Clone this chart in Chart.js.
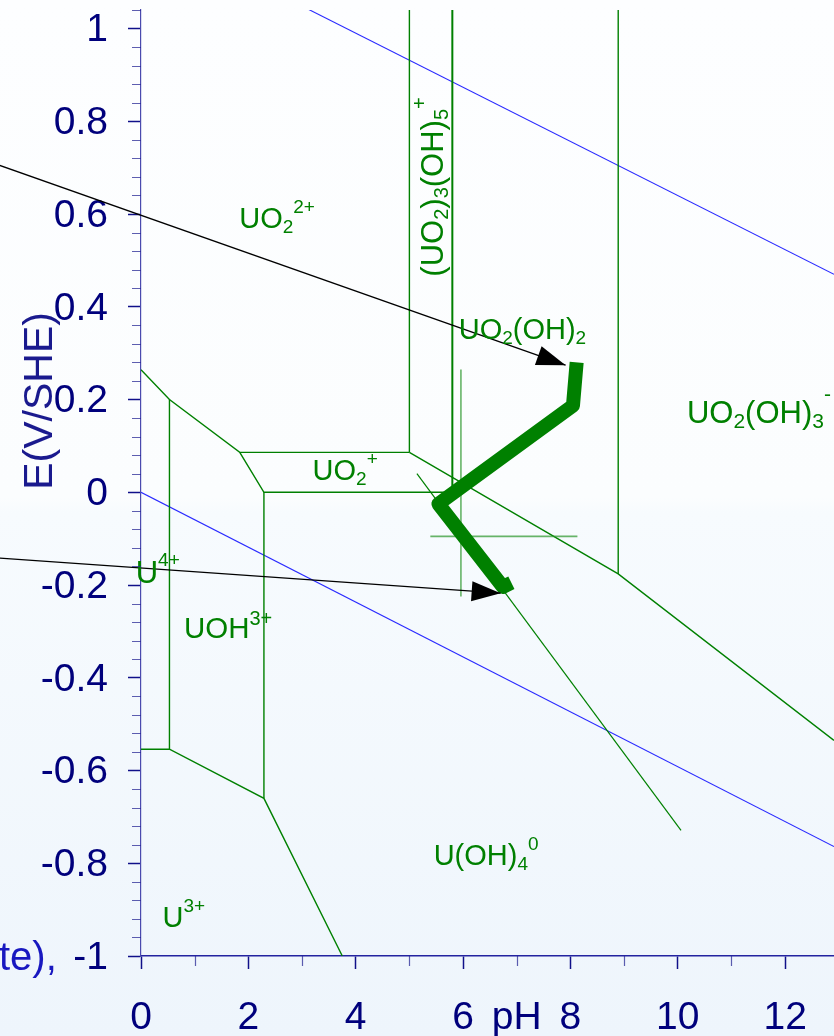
<!DOCTYPE html>
<html>
<head>
<meta charset="utf-8">
<script src="https://cdn.jsdelivr.net/npm/chart.js@4.4.1/dist/chart.umd.min.js"></script>
<style>
  html, body { margin: 0; padding: 0; }
  body {
    width: 834px; height: 1036px; overflow: hidden;
    background: linear-gradient(to bottom, #fdfeff 0%, #fbfdfe 48%, #f7fbfe 49.5%, #eef5fc 100%);
  }
  canvas { display: block; }
</style>
</head>
<body>
<canvas id="pourbaix" width="834" height="1036"></canvas>
<script>
// ---- Axis ticks ----
const xTickValues = [0, 1, 2, 3, 4, 5, 6, 7, 8, 9, 10, 11, 12];
const xTickLabels = ['0', '', '2', '', '4', '', '6', 'pH', '8', '', '10', '', '12'];
const xMajorTicks = [0, 2, 4, 6, 8, 10, 12];
const yTickValues = [-1, -0.8, -0.6, -0.4, -0.2, 0, 0.2, 0.4, 0.6, 0.8, 1];
const yTickLabels = ['-1', '-0.8', '-0.6', '-0.4', '-0.2', '0', '0.2', '0.4', '0.6', '0.8', '1'];
const yMinorTicks = [-0.96, -0.92, -0.88, -0.84, -0.76, -0.72, -0.68, -0.64, -0.56, -0.52, -0.48, -0.44,
  -0.36, -0.32, -0.28, -0.24, -0.16, -0.12, -0.08, -0.04, 0.04, 0.08, 0.12, 0.16, 0.24, 0.28, 0.32, 0.36,
  0.44, 0.48, 0.52, 0.56, 0.64, 0.68, 0.72, 0.76, 0.84, 0.88, 0.92, 0.96, 1.04];
const xMinorTicks = [1, 3, 5, 7, 9, 11];

// ---- Water stability limits (pH, E) ----
const waterUpper = [[3.11, 1.042], [12.91, 0.47]];
const waterLower = [[0, 0], [12.91, -0.764]];

// ---- Uranium species boundaries (pH, E) ----
const bU4Upper = [[0, 0.264], [0.53, 0.2], [1.84, 0.086], [5.0, 0.086]];
const bUO2plusLow = [[1.84, 0.086], [2.29, 0.0], [5.8, 0.0]];
const bU4UOH = [[0.53, 0.2], [0.53, -0.554]];
const bU3Upper = [[0, -0.554], [0.53, -0.554], [2.29, -0.66], [3.75, -1.0]];
const bUOHUOH4 = [[2.29, 0.0], [2.29, -0.66]];
const bUO2ccLeft = [[5.0, 1.04], [5.0, 0.086]];
const bUO2OH2Low = [[5.0, 0.086], [8.89, -0.176], [12.91, -0.535]];
const bUO2ccRight = [[5.8, 1.04], [5.8, 0.0]];
const bUO2OH3Left = [[8.89, 1.04], [8.89, -0.176]];
const bSteep = [[5.14, 0.04], [10.06, -0.729]];

// ---- Marker cross ----
const crossV = [[5.96, 0.265], [5.96, -0.225]];
const crossH = [[5.39, -0.095], [8.13, -0.095]];

// ---- Measured Eh/pH path ----
const pathPH = [8.116, 8.047, 5.540, 6.742, 6.900];
const pathE = [0.280, 0.187, -0.025, -0.204, -0.195];

// ---- Annotation arrows (start, tip) ----
const arrowUpper = [[-2.634, 0.705], [7.91, 0.274]];
const arrowLower = [[-2.634, -0.142], [6.70, -0.2176]];

// ---- Species names: [text, 'sub' | 'sup' | ''] ----
const speciesLabels = [
  { parts: [['UO', ''], ['2', 'sub'], ['2+', 'sup']], pH: 1.83, E: 0.569 },
  { parts: [['UO', ''], ['2', 'sub'], ['(OH)', ''], ['2', 'sub']], pH: 5.919, E: 0.331 },
  { parts: [['UO', ''], ['2', 'sub'], ['(OH)', ''], ['3', 'sub'], ['-', 'sup']], pH: 10.17, E: 0.149, main: 31, small: 21, supDy: -22 },
  { parts: [['UO', ''], ['2', 'sub'], ['+', 'sup']], pH: 3.197, E: 0.027 },
  { parts: [['U', ''], ['4+', 'sup']], pH: -0.099, E: -0.196, main: 31, supDy: -17 },
  { parts: [['UOH', ''], ['3+', 'sup']], pH: 0.80, E: -0.315, main: 29.5, small: 20, supDy: -13 },
  { parts: [['U(OH)', ''], ['4', 'sub'], ['0', 'sup']], pH: 5.452, E: -0.804 },
  { parts: [['U', ''], ['3+', 'sup']], pH: 0.40, E: -0.937, main: 29 },
  { parts: [['(UO', ''], ['2', 'sub'], [')', ''], ['3', 'sub'], ['(OH)', ''], ['5', 'sub'], ['+', 'sup']], pH: 5.63, E: 0.465, rotate: true, main: 31, small: 20, supDy: -17 }
];

const GREEN = '#008000';
const NAVY = '#00007c';
const FONT = '"Liberation Sans", Arial, Helvetica, sans-serif';

const toXY = pts => pts.map(p => ({ x: p[0], y: p[1] }));
const seg = (pts, color, width, order) => ({
  data: toXY(pts), showLine: true, borderColor: color, borderWidth: width,
  pointRadius: 0, pointHoverRadius: 0, tension: 0, order: order, fill: false
});

const datasets = [
  Object.assign(seg(arrowUpper, '#000000', 1.3, 0), { clip: false, arrow: true }),
  Object.assign(seg(arrowLower, '#000000', 1.3, 0), { clip: false, arrow: true }),
  Object.assign(seg(pathPH.map((v, i) => [v, pathE[i]]), GREEN, 14, 1), { borderJoinStyle: 'round', borderCapStyle: 'butt' }),
  seg(crossV, 'rgba(40,150,40,0.7)', 1.6, 2),
  seg(crossH, 'rgba(40,150,40,0.7)', 1.6, 2),
  seg(bU4Upper, GREEN, 1.4, 3),
  seg(bUO2plusLow, GREEN, 1.4, 3),
  seg(bU4UOH, GREEN, 1.4, 3),
  seg(bU3Upper, GREEN, 1.4, 3),
  seg(bUOHUOH4, GREEN, 1.4, 3),
  seg(bUO2ccLeft, GREEN, 1.4, 3),
  seg(bUO2OH2Low, GREEN, 1.4, 3),
  seg(bUO2ccRight, GREEN, 2, 3),
  seg(bUO2OH3Left, GREEN, 1.4, 3),
  seg(bSteep, GREEN, 1.2, 3),
  seg(waterUpper, '#2a2aff', 1.1, 4),
  seg(waterLower, '#2a2aff', 1.1, 4)
];

function drawFormula(ctx, parts, x, y, st) {
  let cx = x;
  for (const [txt, kind] of parts) {
    const size = kind ? st.small : st.main;
    ctx.font = size + 'px ' + FONT;
    const dy = kind === 'sub' ? st.subDy : (kind === 'sup' ? st.supDy : 0);
    ctx.fillText(txt, cx, y + dy);
    cx += ctx.measureText(txt).width;
  }
}

const decorations = {
  id: 'decorations',
  afterDatasetsDraw(chart) {
    const ctx = chart.ctx;
    const xs = chart.scales.x, ys = chart.scales.y;

    // arrowheads at the end of each arrow dataset
    chart.data.datasets.forEach((ds, i) => {
      if (!ds.arrow) return;
      const pts = chart.getDatasetMeta(i).data;
      const a = pts[pts.length - 2], b = pts[pts.length - 1];
      const ang = Math.atan2(b.y - a.y, b.x - a.x);
      const len = 29, hw = 10;
      ctx.save();
      ctx.translate(b.x, b.y);
      ctx.rotate(ang);
      ctx.beginPath();
      ctx.moveTo(0, 0);
      ctx.lineTo(-len, -hw);
      ctx.lineTo(-len, hw);
      ctx.closePath();
      ctx.fillStyle = '#000000';
      ctx.fill();
      ctx.restore();
    });

    // species names
    ctx.save();
    ctx.fillStyle = GREEN;
    ctx.textAlign = 'left';
    ctx.textBaseline = 'alphabetic';
    speciesLabels.forEach(l => {
      const st = {
        main: l.main || 29, small: l.small || 19,
        subDy: l.subDy != null ? l.subDy : 5, supDy: l.supDy != null ? l.supDy : -15
      };
      const px = xs.getPixelForValue(l.pH), py = ys.getPixelForValue(l.E);
      if (l.rotate) {
        ctx.save();
        ctx.translate(px, py);
        ctx.rotate(-Math.PI / 2);
        drawFormula(ctx, l.parts, 0, 0, st);
        ctx.restore();
      } else {
        drawFormula(ctx, l.parts, px, py, st);
      }
    });
    ctx.restore();
  },
  afterDraw(chart) {
    const ctx = chart.ctx;
    const xs = chart.scales.x, ys = chart.scales.y;
    const area = chart.chartArea;
    ctx.save();
    // minor ticks
    ctx.strokeStyle = 'rgba(40,40,150,0.75)';
    ctx.lineWidth = 1.2;
    ctx.beginPath();
    yMinorTicks.forEach(v => {
      const y = Math.round(ys.getPixelForValue(v)) + 0.5;
      ctx.moveTo(area.left - 9, y);
      ctx.lineTo(area.left, y);
    });
    xMinorTicks.forEach(v => {
      const x = Math.round(xs.getPixelForValue(v)) + 0.5;
      ctx.moveTo(x, area.bottom);
      ctx.lineTo(x, area.bottom + 10);
    });
    ctx.stroke();

    // vertical axis title
    ctx.fillStyle = '#1a1a8e';
    ctx.font = '41px ' + FONT;
    ctx.textAlign = 'center';
    ctx.textBaseline = 'alphabetic';
    ctx.translate(52, ys.getPixelForValue(0.197));
    ctx.rotate(-Math.PI / 2);
    ctx.fillText('E(V/SHE)', 0, 0);
    ctx.restore();

    // trailing caption text at the lower left
    ctx.save();
    ctx.fillStyle = '#1818c0';
    ctx.font = '40px ' + FONT;
    ctx.textAlign = 'left';
    ctx.textBaseline = 'alphabetic';
    ctx.fillText('te),', -1, 970);
    ctx.restore();
  }
};

new Chart(document.getElementById('pourbaix'), {
  type: 'scatter',
  data: { datasets },
  options: {
    responsive: false,
    animation: false,
    events: [],
    layout: { padding: { top: 10, left: 0, right: 0, bottom: 0 } },
    plugins: { legend: { display: false }, tooltip: { enabled: false }, title: { display: false } },
    scales: {
      x: {
        type: 'linear', min: 0, max: 12.91,
        afterBuildTicks: s => { s.ticks = xTickValues.map(v => ({ value: v })); },
        afterFit: s => { s.height = 80; s.paddingLeft = 0; s.paddingRight = 0; },
        ticks: {
          autoSkip: false, maxRotation: 0, padding: 26,
          font: { family: FONT, size: 39 }, color: NAVY,
          callback: v => xTickLabels[xTickValues.indexOf(v)]
        },
        grid: {
          drawOnChartArea: false, drawTicks: true, tickLength: 13, tickWidth: 1.5,
          tickColor: c => xMajorTicks.includes(c.tick.value) ? '#10108a' : 'rgba(0,0,0,0)'
        },
        border: { display: true, color: '#2323a0', width: 1.5 }
      },
      y: {
        type: 'linear', min: -1, max: 1.04,
        afterBuildTicks: s => { s.ticks = yTickValues.map(v => ({ value: v })); },
        afterFit: s => { s.width = 141; s.paddingTop = 0; s.paddingBottom = 0; },
        ticks: {
          autoSkip: false, padding: 20, labelOffset: 2,
          font: { family: FONT, size: 39 }, color: NAVY,
          callback: v => yTickLabels[yTickValues.indexOf(v)]
        },
        grid: { drawOnChartArea: false, drawTicks: true, tickLength: 13, tickWidth: 1.5, tickColor: '#10108a' },
        border: { display: true, color: '#4a4aae', width: 1.2 }
      }
    }
  },
  plugins: [decorations]
});
</script>
</body>
</html>
